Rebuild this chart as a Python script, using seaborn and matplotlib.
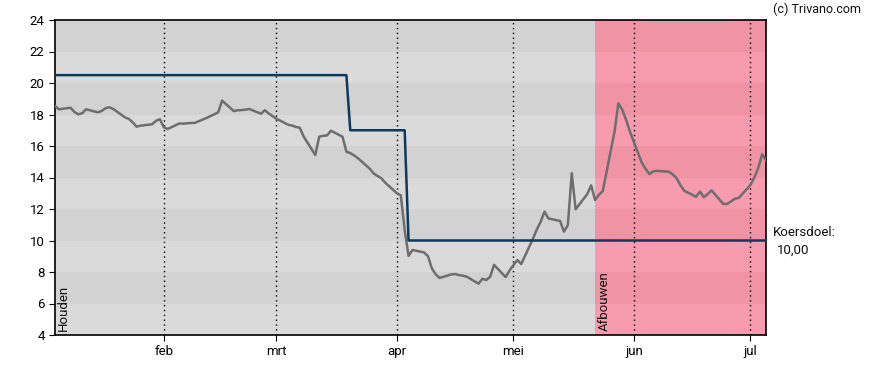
import pandas as pd
import matplotlib.pyplot as plt
import matplotlib.dates as mdates
import seaborn as sns

plt.rcParams['font.family'] = ['Roboto', 'DejaVu Sans']

# koers per handelsdag vanaf 4 januari
price = [
    18.54, 18.33, 18.43, 18.16, 18.01, 18.08, 18.33, 18.14, 18.22, 18.40,
    18.46, 18.35, 17.82, 17.72, 17.50, 17.23, 17.29, 17.38, 17.60, 17.70,
    17.19, 17.08, 17.43, 17.42, 17.44, 17.46, 17.47, 17.78, 17.90, 18.01,
    18.14, 18.88, 18.22, 18.27, 18.28, 18.31, 18.35, 18.05, 18.27, 18.07,
    17.90, 17.73, 17.35, 17.30, 17.21, 17.16, 16.60, 15.43, 16.59, 16.65,
    16.67, 16.97, 16.59, 15.64, 15.55, 15.40, 15.22, 14.56, 14.26, 14.10,
    13.95, 13.67, 13.00, 12.87, 10.67, 9.02, 9.40, 9.24, 9.00, 8.23,
    7.85, 7.62, 7.85, 7.87, 7.80, 7.77, 7.70, 7.26, 7.57, 7.49,
    7.70, 8.45, 7.68, 8.10, 8.44, 8.76, 8.51, 10.10, 10.70, 11.19,
    11.83, 11.40, 11.24, 10.56, 10.98, 14.27, 11.98, 12.95, 13.50, 12.57,
    12.90, 13.15, 16.90, 18.71, 18.30, 17.65, 16.90, 14.95, 14.55, 14.22,
    14.40, 14.42, 14.37, 14.20, 13.95, 13.50, 13.15, 12.78, 13.10, 12.75,
    12.95, 13.18, 12.32, 12.32, 12.48, 12.65, 12.71, 13.52, 14.00, 14.60,
    15.47, 15.10,
]
start_date = "2024-01-04"

target_dates = ["2024-01-04", "2024-03-19", "2024-03-20", "2024-04-03", "2024-04-04", "2024-07-05"]
target_vals = [20.5, 20.5, 17.0, 17.0, 10.0, 10.0]

advice_dates = ["2024-01-04", "2024-05-22"]
advice_labels = ["Houden", "Afbouwen"]

month_ticks = ["2024-02-01", "2024-03-01", "2024-04-01", "2024-05-01", "2024-06-01", "2024-07-01"]
month_labels = ["feb", "mrt", "apr", "mei", "jun", "jul"]

df = pd.DataFrame({"datum": pd.bdate_range(start_date, periods=len(price)), "koers": price})
tdf = pd.DataFrame({"datum": pd.to_datetime(target_dates), "doel": target_vals})

fig = plt.figure(figsize=(8.88, 3.7), dpi=100)
ax = fig.add_axes([55 / 888, 35 / 370, 711 / 888, 315 / 370])

x0, x1 = df["datum"].iloc[0], df["datum"].iloc[-1]
pink0 = pd.Timestamp(advice_dates[1])

# achtergrondbanden
for i, lo in enumerate(range(4, 24, 2)):
    dark = (i % 2 == 1)
    ax.fill_between([x0, pink0], lo, lo + 2, color="#d2d2d2" if dark else "#dadada", lw=0, zorder=0)
    ax.fill_between([pink0, x1], lo, lo + 2, color="#f093a5" if dark else "#f79bae", lw=0, zorder=0)

for m in month_ticks:
    ax.axvline(pd.Timestamp(m), color="black", ls=(0, (1, 2.5)), lw=1, zorder=1)

sns.lineplot(data=df, x="datum", y="koers", ax=ax, color="#6e6e6e", lw=1.8, zorder=3)
sns.lineplot(data=tdf, x="datum", y="doel", ax=ax, color="#0d3a5c", lw=1.8, zorder=4)

ax.set_xlim(x0, x1)
ax.set_ylim(4, 24)
ax.set_yticks(range(4, 25, 2))
ax.set_xticks(pd.to_datetime(month_ticks))
ax.set_xticklabels(month_labels)
ax.set_xlabel("")
ax.set_ylabel("")
ax.tick_params(labelsize=9.5, length=4, color="black")
for s in ax.spines.values():
    s.set_color("black")
    s.set_linewidth(1.2)

for d, lab in zip(advice_dates, advice_labels):
    ax.text(pd.Timestamp(d) + pd.Timedelta(days=0.6), 4.25, lab, rotation=90,
            ha="left", va="bottom", fontsize=9.5, color="#111111", zorder=5)

fig.text(773 / 888, 1 - 233 / 370, "Koersdoel:", fontsize=9.5, color="#111111", va="center")
fig.text(777 / 888, 1 - 250 / 370, "10,00", fontsize=9.5, color="#111111", va="center")
fig.text(773 / 888, 1 - 9 / 370, "(c) Trivano.com", fontsize=9, color="#111111", va="center")

fig.savefig("out.png", dpi=100)
